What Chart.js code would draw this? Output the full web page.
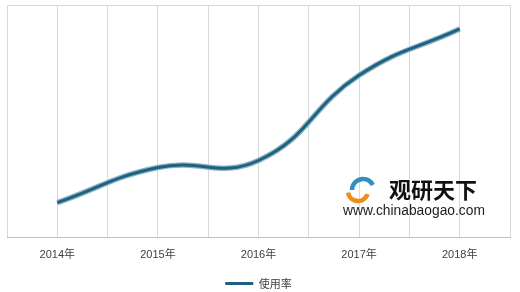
<!DOCTYPE html>
<html>
<head>
<meta charset="utf-8">
<script src="https://cdn.jsdelivr.net/npm/chart.js@4"></script>
<style>
  html, body { margin: 0; padding: 0; background: #fff; }
  #box { width: 520px; height: 292px; }
</style>
</head>
<body>
<div id="box"><canvas id="grafica"></canvas></div>
<script>
const anios = ['2014年', '2015年', '2016年', '2017年', '2018年'];
const usoRate = [15.1, 30.2, 33.2, 69.8, 89.7];
const serieNombre = '使用率';

const puntos = usoRate.map((v, i) => ({ x: i, y: v }));

// marca de agua (logo + texto)
const marcaAgua = {
    id: 'marcaAgua',
    afterDatasetsDraw(chart) {
        const ctx = chart.ctx;
        ctx.save();
        ctx.lineWidth = 4.5;
        ctx.strokeStyle = '#2f8fc0';
        ctx.beginPath();
        ctx.arc(363, 190, 11, Math.PI * 1.0, Math.PI * 1.85);
        ctx.stroke();
        ctx.strokeStyle = '#f08c1a';
        ctx.beginPath();
        ctx.arc(358, 191, 10, Math.PI * 0.1, Math.PI * 0.95);
        ctx.stroke();
        ctx.fillStyle = '#111';
        ctx.font = 'bold 22px "Noto Sans CJK SC"';
        ctx.textBaseline = 'middle';
        ctx.fillText('观研天下', 389, 190);
        ctx.fillStyle = '#222';
        ctx.font = '13.8px "Liberation Sans"';
        ctx.fillText('www.chinabaogao.com', 343, 211);
        ctx.restore();
    }
};

const ctx = document.getElementById('grafica').getContext('2d');
new Chart(ctx, {
    type: 'line',
    data: {
        datasets: [{
            label: serieNombre,
            data: puntos,
            borderColor: '#1d6381',
            borderWidth: 3,
            pointRadius: 0,
            tension: 0.45,
            order: 0
        }, {
            label: 'borde',
            data: puntos,
            borderColor: '#8fb3c4',
            borderWidth: 5.5,
            pointRadius: 0,
            tension: 0.45,
            order: 1
        }]
    },
    options: {
        responsive: true,
        maintainAspectRatio: false,
        animation: false,
        layout: { padding: { left: 7, right: 10, top: 5, bottom: -7 } },
        plugins: {
            legend: {
                position: 'bottom',
                labels: {
                    filter: item => item.text === serieNombre,
                    usePointStyle: true,
                    pointStyle: 'line',
                    pointStyleWidth: 28,
                    color: '#404040',
                    font: { size: 11, family: '"Noto Sans CJK SC", "Liberation Sans"' },
                    padding: 3
                }
            },
            tooltip: { enabled: false }
        },
        scales: {
            x: {
                type: 'linear',
                min: -0.5,
                max: 4.5,
                afterFit: s => { s.height += 2; s.paddingLeft = 0; s.paddingRight = 0; },
                ticks: {
                    stepSize: 0.5,
                    autoSkip: false,
                    maxRotation: 0,
                    color: '#404040',
                    font: { size: 11, family: '"Liberation Sans", "Noto Sans CJK SC"' },
                    padding: 11,
                    callback: v => Number.isInteger(v) ? anios[v] : ''
                },
                grid: { color: '#d9d9d9', lineWidth: 1, drawTicks: false },
                border: { color: '#bfbfbf' }
            },
            y: {
                min: 0,
                max: 100,
                afterFit: s => { s.width = 0; },
                ticks: { display: false, stepSize: 100 },
                grid: { color: '#d9d9d9', drawTicks: false },
                border: { display: false }
            }
        }
    },
    plugins: [marcaAgua]
});
</script>
</body>
</html>
